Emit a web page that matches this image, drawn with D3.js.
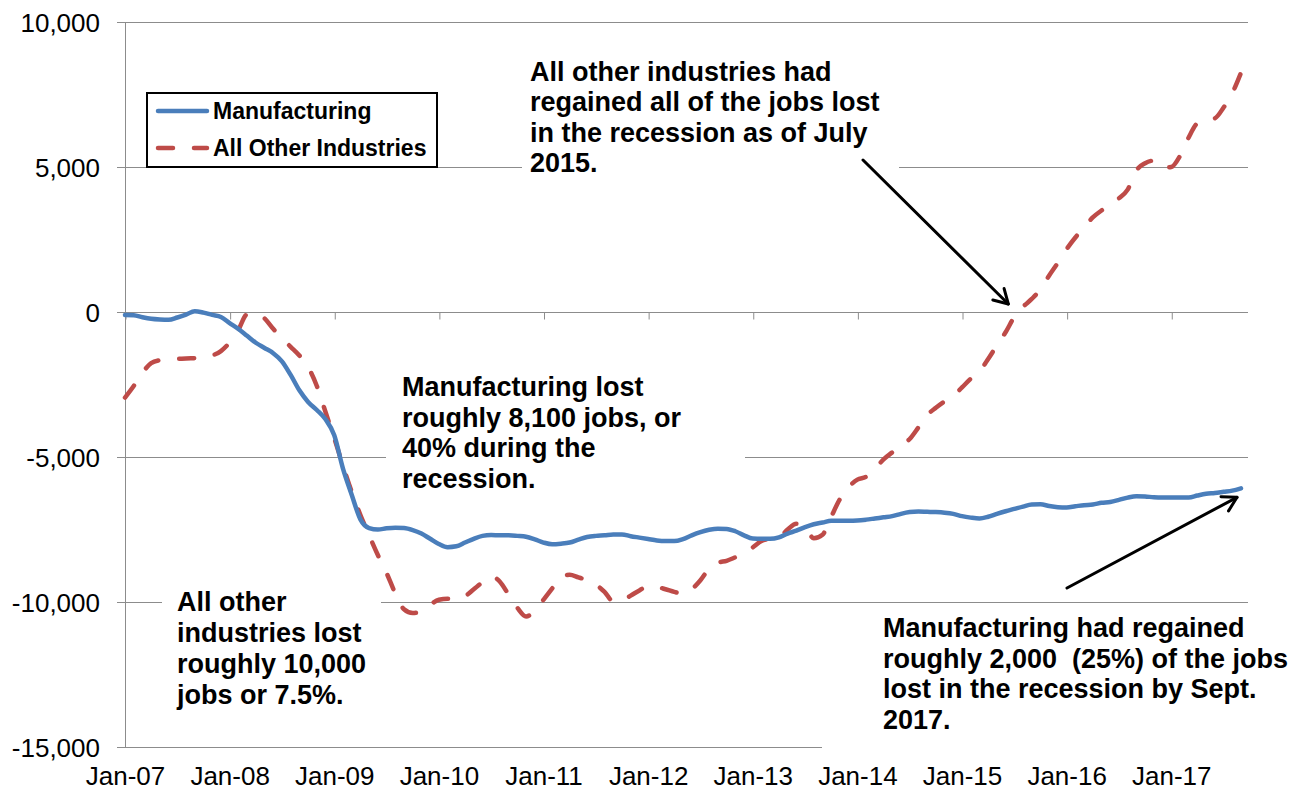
<!DOCTYPE html>
<html>
<head>
<meta charset="utf-8">
<script src="https://cdn.jsdelivr.net/npm/d3@7"></script>
<style>
  html, body { margin: 0; padding: 0; background: #fff; }
  svg { display: block; font-family: "Liberation Sans", Arial, sans-serif; }
  .note text { white-space: pre; }
</style>
</head>
<body>
<svg id="chart" width="1293" height="793"></svg>
<script>
// Change in employment since January 2007, monthly, Jan-07 through Sep-17
const monthLabels = ["Jan-07","Jan-08","Jan-09","Jan-10","Jan-11","Jan-12","Jan-13","Jan-14","Jan-15","Jan-16","Jan-17"];
const yTicks = [-15000, -10000, -5000, 0, 5000, 10000];
const seriesNames = ["Manufacturing", "All Other Industries"];

const manufacturing = [
  -100, -110, -180, -235, -260, -270, -190, -90, 30, -20, -100, -170,
  -380, -580, -820, -1060, -1240, -1420, -1700, -2170, -2700, -3100, -3380, -3700,
  -4250, -5400, -6300, -7150, -7450, -7500, -7460, -7440, -7450, -7520, -7640, -7820,
  -8000, -8110, -8080, -7950, -7820, -7720, -7690, -7700, -7700, -7720, -7750, -7840,
  -7950, -8010, -7990, -7950, -7850, -7760, -7720, -7700, -7670, -7670, -7730, -7780,
  -7830, -7880, -7900, -7900, -7830, -7700, -7590, -7510, -7470, -7480, -7560, -7700,
  -7810, -7820, -7820, -7770, -7640, -7540, -7420, -7320, -7260, -7200, -7200, -7200,
  -7190, -7160, -7120, -7080, -7040, -6960, -6900, -6880, -6890, -6900, -6920, -6960,
  -7040, -7090, -7120, -7060, -6960, -6870, -6790, -6710, -6640, -6630, -6690, -6730,
  -6740, -6700, -6660, -6640, -6580, -6550, -6480, -6400, -6350, -6360, -6390, -6400,
  -6400, -6400, -6400, -6330, -6270, -6240, -6200, -6160, -6080
];

const otherIndustries = [
  -2950, -2550, -2100, -1760, -1660, -1630, -1620, -1600, -1590, -1575, -1500, -1350,
  -1050, -620, -80, -60, -220, -580, -900, -1200, -1500, -1900, -2550, -3450,
  -4350, -5300, -6200, -7000, -7700, -8380, -9000, -9700, -10250, -10380, -10330, -10100,
  -9920, -9890, -9900, -9800, -9560, -9320, -9120, -9300, -9750, -10200, -10500, -10300,
  -9920, -9530, -9120, -9060, -9150, -9250, -9400, -9650, -9980, -9950, -9780, -9600,
  -9460, -9480, -9560, -9650, -9720, -9560, -9250, -8850, -8650, -8580, -8460, -8330,
  -8120, -7900, -7820, -7780, -7500, -7300, -7420, -7800, -7680, -7060, -6450, -6040,
  -5780, -5680, -5420, -5080, -4840, -4600, -4380, -3980, -3560, -3300, -3080, -2900,
  -2600, -2300, -2050, -1620, -1150, -700, -170, 180, 450, 780, 1260, 1700,
  2170, 2570, 2920, 3260, 3500, 3690, 3920, 4220, 4880, 5130, 5220, 4980,
  5000, 5380, 6020, 6510, 6620, 6680, 7050, 7550, 8250
];

const noteOtherRegained = ["All other industries had", "regained all of the jobs lost", "in the recession as of July", "2015."];
const noteMfgLost = ["Manufacturing lost", "roughly 8,100 jobs, or", "40% during the", "recession."];
const noteOtherLost = ["All other", "industries lost", "roughly 10,000", "jobs or 7.5%."];
const noteMfgRegained = ["Manufacturing had regained", "roughly 2,000  (25%) of the jobs", "lost in the recession by Sept.", "2017."];

(function draw() {
  const svg = d3.select("#chart");
  const plotLeft = 125, plotRight = 1248, plotTop = 22, plotBottom = 747;
  const blue = "#4A7EBB", red = "#BE4B48", grid = "#8c8c8c";
  const font = "'Liberation Sans', Arial, sans-serif";

  const x = d3.scaleLinear().domain([0, manufacturing.length - 1]).range([plotLeft, 1241]);
  const y = d3.scaleLinear().domain([-15000, 10000]).range([plotBottom, plotTop]);
  const fmt = v => d3.format(",")(v).replace("\u2212", "-");

  // horizontal gridlines (extending left as tick marks)
  svg.append("g").selectAll("line").data(yTicks).join("line")
    .attr("x1", plotLeft - 8).attr("x2", plotRight)
    .attr("y1", d => y(d) + 0.5).attr("y2", d => y(d) + 0.5)
    .attr("stroke", grid).attr("stroke-width", 1);

  // vertical axis line
  svg.append("line").attr("x1", plotLeft + 0.5).attr("x2", plotLeft + 0.5)
    .attr("y1", plotTop).attr("y2", plotBottom).attr("stroke", grid);

  // y axis labels
  const yAxis = svg.append("g").attr("transform", `translate(${plotLeft},0)`)
    .call(d3.axisLeft(y).tickValues(yTicks).tickSize(0).tickPadding(25).tickFormat(fmt));
  yAxis.select(".domain").remove();
  yAxis.selectAll("text").attr("font-size", 26).attr("fill", "#000")
    .attr("font-family", font).attr("dy", "0.35em");

  // category tick marks on the zero line
  const tickIdx = monthLabels.map((d, i) => i * 12);
  const xTickAxis = svg.append("g").attr("transform", `translate(0,${y(0) + 0.5})`)
    .call(d3.axisBottom(x).tickValues(tickIdx).tickSize(7).tickFormat(""));
  xTickAxis.select(".domain").remove();
  xTickAxis.selectAll("line").attr("stroke", grid).attr("transform", "translate(0.5,0)");

  // category labels along the bottom
  const xLabAxis = svg.append("g").attr("transform", `translate(0,${plotBottom})`)
    .call(d3.axisBottom(x).tickValues(tickIdx).tickSize(0).tickPadding(20)
      .tickFormat((d, i) => monthLabels[i]));
  xLabAxis.select(".domain").remove();
  xLabAxis.selectAll("text").attr("font-size", 26).attr("fill", "#000")
    .attr("font-family", font);

  // white text-box backgrounds
  const boxes = [
    [522, 52, 899, 183],
    [386, 368, 745, 497],
    [162, 585, 381, 712],
    [822, 608, 1293, 753]
  ];
  svg.append("g").selectAll("rect").data(boxes).join("rect")
    .attr("x", d => d[0]).attr("y", d => d[1])
    .attr("width", d => d[2] - d[0]).attr("height", d => d[3] - d[1])
    .attr("fill", "#fff");

  // series lines
  const line = d3.line().x((d, i) => x(i)).y(d => y(d)).curve(d3.curveMonotoneX);
  svg.append("path").datum(otherIndustries).attr("d", line)
    .attr("fill", "none").attr("stroke", red).attr("stroke-width", 4.5)
    .attr("stroke-dasharray", "15,21").attr("stroke-linecap", "round").attr("stroke-linejoin", "round");
  svg.append("path").datum(manufacturing).attr("d", line)
    .attr("fill", "none").attr("stroke", blue).attr("stroke-width", 4.5)
    .attr("stroke-linecap", "round").attr("stroke-linejoin", "round");

  // legend
  const lg = svg.append("g");
  lg.append("rect").attr("x", 147).attr("y", 93).attr("width", 290).attr("height", 74)
    .attr("fill", "#fff").attr("stroke", "#000").attr("stroke-width", 2);
  const legendRows = [
    { name: seriesNames[0], color: blue, dash: null, cy: 111 },
    { name: seriesNames[1], color: red, dash: "15,21", cy: 148 }
  ];
  legendRows.forEach(r => {
    lg.append("line").attr("x1", 158).attr("x2", 207).attr("y1", r.cy).attr("y2", r.cy)
      .attr("stroke", r.color).attr("stroke-width", 4.5).attr("stroke-linecap", "round")
      .attr("stroke-dasharray", r.dash);
    lg.append("text").attr("x", 213).attr("y", r.cy + 8).attr("font-size", 23)
      .attr("font-weight", "bold").attr("fill", "#000").text(r.name);
  });

  // annotations
  function note(lines, x0, y0, lh) {
    const g = svg.append("g").attr("class", "note");
    g.selectAll("text").data(lines).join("text")
      .attr("x", x0).attr("y", (d, i) => y0 + i * lh)
      .attr("font-size", 27).attr("font-weight", "bold").attr("fill", "#000")
      .text(d => d);
  }
  note(noteOtherRegained, 530, 81, 30.4);
  note(noteMfgLost, 402, 396, 30.6);
  note(noteOtherLost, 177, 611, 31);
  note(noteMfgRegained, 883, 637, 30.5);

  // arrows
  function arrow(x1, y1, x2, y2) {
    const g = svg.append("g").attr("stroke", "#000").attr("stroke-width", 3)
      .attr("fill", "none").attr("stroke-linecap", "round").attr("stroke-linejoin", "round");
    g.append("line").attr("x1", x1).attr("y1", y1).attr("x2", x2).attr("y2", y2);
    const a = Math.atan2(y1 - y2, x1 - x2), L = 16, s = Math.PI / 6;
    g.append("path").attr("d",
      `M${x2 + L * Math.cos(a + s)},${y2 + L * Math.sin(a + s)}L${x2},${y2}L${x2 + L * Math.cos(a - s)},${y2 + L * Math.sin(a - s)}`);
  }
  // July 2015: all other industries back to zero
  const jul15 = 102;
  arrow(863, 160, x(jul15) - 6, y(0) - 8);
  // September 2017: latest manufacturing value
  const last = manufacturing.length - 1;
  arrow(1067, 588, x(last) - 4, y(manufacturing[last]) + 9);
})();
</script>
</body>
</html>
